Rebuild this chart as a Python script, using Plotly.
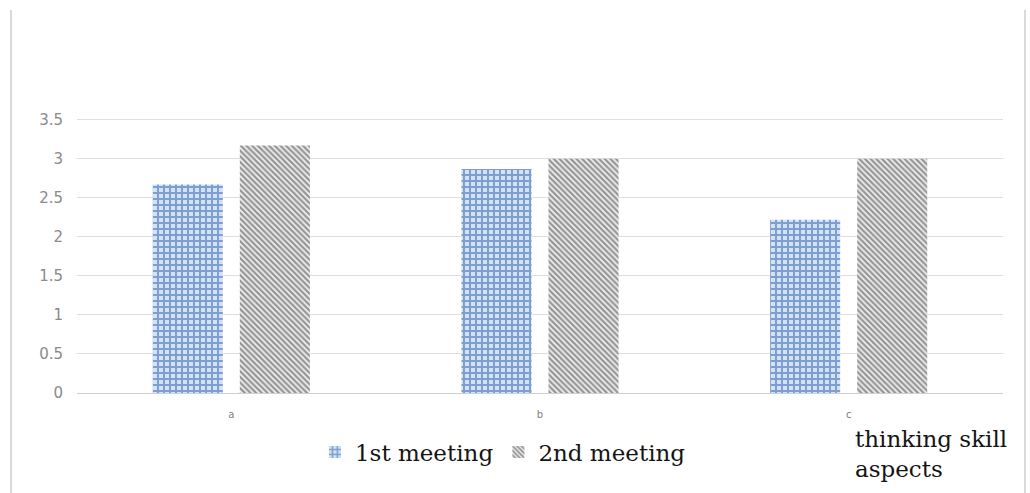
import plotly.graph_objects as go

# Scores for each thinking-skill aspect across two meetings
aspects = ["a", "b", "c"]
first_meeting = [2.67, 2.87, 2.22]
second_meeting = [3.17, 3.0, 3.0]
y_ticks = [0, 0.5, 1, 1.5, 2, 2.5, 3, 3.5]
y_tick_text = ["0", "0.5", "1", "1.5", "2", "2.5", "3", "3.5"]

fig = go.Figure()
fig.add_trace(go.Bar(
    x=aspects, y=first_meeting, name="1st meeting",
    marker=dict(
        color="#d2e3f8",
        line=dict(width=0),
        pattern=dict(shape="+", size=6, solidity=0.55,
                     fgcolor="#2a58a8", bgcolor="#d2e3f8", fillmode="overlay"),
    ),
))
fig.add_trace(go.Bar(
    x=aspects, y=second_meeting, name="2nd meeting",
    marker=dict(
        color="#ffffff",
        line=dict(width=0),
        pattern=dict(shape="\\", size=4, solidity=0.6,
                     fgcolor="#3a3a3a", bgcolor="#f4f4f4", fillmode="overlay"),
    ),
))

# Thin frame lines at the outer left and right edges
for xp in (-0.0713, 1.0238):
    fig.add_shape(type="line", xref="paper", yref="paper",
                  x0=xp, x1=xp, y0=1.363, y1=-0.36,
                  line=dict(color="#d9d9d9", width=2))

fig.add_annotation(
    text="thinking skill<br>aspects", xref="paper", yref="paper",
    x=0.838, y=-0.112, xanchor="left", yanchor="top", align="left",
    showarrow=False,
    font=dict(family="DejaVu Serif", size=23, color="#141414"),
)

fig.update_layout(
    width=1030, height=493,
    margin=dict(l=77, r=27, t=112, b=100),
    paper_bgcolor="white", plot_bgcolor="white",
    barmode="group", bargap=0.436, bargroupgap=0.195,
    showlegend=True,
    legend=dict(
        orientation="h", x=0.46, xanchor="center", y=-0.21, yanchor="middle",
        font=dict(family="DejaVu Serif", size=23, color="#141414"),
        itemwidth=30, traceorder="normal",
    ),
    xaxis=dict(
        showgrid=False, showline=False, zeroline=False,
        tickfont=dict(family="DejaVu Sans", size=10, color="#7f7f7f"),
        ticklabelstandoff=14,
    ),
    yaxis=dict(
        range=[0, 3.6], tickvals=y_ticks, ticktext=y_tick_text,
        showgrid=True, gridcolor="#dedede", gridwidth=1,
        zeroline=True, zerolinecolor="#d0d0d0", zerolinewidth=1,
        showline=False,
        tickfont=dict(family="DejaVu Sans", size=15, color="#8a8a8a"),
        ticklabelstandoff=13,
    ),
)

fig.write_html("out.html")
